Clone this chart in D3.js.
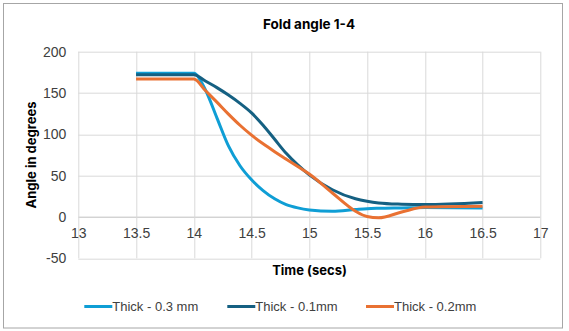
<!DOCTYPE html>
<html>
<head>
<meta charset="utf-8">
<script src="https://cdn.jsdelivr.net/npm/d3@7"></script>
<style>
  body { margin: 0; background: #fff; }
  svg { display: block; }
</style>
</head>
<body>
<div id="wrapper"></div>
<script>
const times = [13.5, 14, 14.1, 14.2, 14.3, 14.4, 14.5, 14.6, 14.7, 14.8, 14.9, 15, 15.2, 15.4, 15.5, 15.6, 15.8, 16, 16.5];
const thick03 = [174, 174, 154, 120, 86, 62, 45, 32, 22, 15, 11, 8.5, 6.8, 9, 10, 10.5, 11, 11.5, 11];
const thick01 = [172, 172, 164.5, 156.5, 147.5, 137.5, 126, 111, 94, 77, 63, 51, 33, 22, 19, 17, 15.5, 15, 17.5];
const thick02 = [167, 167, 153, 139, 124.5, 111, 99, 88.5, 79, 70, 61, 52, 29, 7, 0.5, -1, 6, 12, 13];
const seriesNames = ["Thick - 0.3 mm", "Thick - 0.1mm", "Thick - 0.2mm"];
const seriesColors = ["#0F9ED5", "#156082", "#E97132"];
const xTicks = [13, 13.5, 14, 14.5, 15, 15.5, 16, 16.5, 17];
const yTicks = [-50, 0, 50, 100, 150, 200];

const series = [thick03, thick01, thick02].map((vals, i) => ({
    name: seriesNames[i],
    color: seriesColors[i],
    points: vals.map((v, j) => ({ t: times[j], v }))
}));

const dimensions = {
    width: 569,
    height: 331,
    margin: { top: 51.7, right: 28.7, bottom: 72.7, left: 78.3 }
};
dimensions.boundedWidth = dimensions.width - dimensions.margin.left - dimensions.margin.right;
dimensions.boundedHeight = dimensions.height - dimensions.margin.top - dimensions.margin.bottom;

const xScale = d3.scaleLinear()
    .domain([13, 17])
    .range([0, dimensions.boundedWidth]);

const yScale = d3.scaleLinear()
    .domain([-50, 200])
    .range([dimensions.boundedHeight, 0]);

const wrapper = d3.select("#wrapper")
    .append("svg")
    .attr("width", dimensions.width)
    .attr("height", dimensions.height);

// chart border
wrapper.append("rect")
    .attr("x", 3.5)
    .attr("y", 3.5)
    .attr("width", 559)
    .attr("height", 324.5)
    .attr("fill", "#fff")
    .attr("stroke", "#a6a6a6")
    .attr("stroke-width", 1);

wrapper.append("text")
    .attr("x", 309)
    .attr("y", 29)
    .attr("text-anchor", "middle")
    .style("font-family", "Inter, 'Open Sans', sans-serif")
    .style("font-weight", "bold")
    .style("font-size", "13.5px")
    .attr("fill", "#000")
    .text("Fold angle 1-4");

const bounds = wrapper.append("g")
    .attr("transform", `translate(${dimensions.margin.left}, ${dimensions.margin.top})`);

// gridlines
bounds.append("g")
    .selectAll("line")
    .data(yTicks)
    .join("line")
    .attr("x1", 0)
    .attr("x2", dimensions.boundedWidth)
    .attr("y1", d => Math.round(yScale(d)) + 0.5)
    .attr("y2", d => Math.round(yScale(d)) + 0.5)
    .attr("stroke", d => d === 0 ? "#bfbfbf" : "#d9d9d9");

bounds.append("g")
    .selectAll("line")
    .data(xTicks)
    .join("line")
    .attr("x1", d => Math.round(xScale(d)) + 0.5)
    .attr("x2", d => Math.round(xScale(d)) + 0.5)
    .attr("y1", 0)
    .attr("y2", dimensions.boundedHeight)
    .attr("stroke", "#d9d9d9");

// y axis labels (plain hyphen for negatives, like Excel)
const yAxisGenerator = d3.axisLeft(yScale)
    .tickValues(yTicks)
    .tickFormat(d => String(d))
    .tickSize(0)
    .tickPadding(12);

const yAxis = bounds.append("g").call(yAxisGenerator);
yAxis.select(".domain").remove();
yAxis.selectAll("text")
    .style("font-family", "'Liberation Sans', Arial, sans-serif")
    .style("font-size", "14px")
    .attr("fill", "#404040");

// x axis labels sit next to the zero line
const xAxisGenerator = d3.axisBottom(xScale)
    .tickValues(xTicks)
    .tickFormat(d => String(d))
    .tickSize(0)
    .tickPadding(11);

const xAxis = bounds.append("g")
    .attr("transform", `translate(0, ${yScale(0)})`)
    .call(xAxisGenerator);
xAxis.select(".domain").remove();
xAxis.selectAll("text")
    .style("font-family", "'Liberation Sans', Arial, sans-serif")
    .style("font-size", "14px")
    .attr("fill", "#404040");

// axis titles
wrapper.append("text")
    .attr("x", 309.5)
    .attr("y", 275)
    .attr("text-anchor", "middle")
    .style("font-family", "Inter, 'Open Sans', sans-serif")
    .style("font-weight", "bold")
    .style("font-size", "13px")
    .attr("fill", "#000")
    .text("Time (secs)");

wrapper.append("text")
    .attr("transform", "translate(36, 155) rotate(-90)")
    .attr("text-anchor", "middle")
    .style("font-family", "Inter, 'Open Sans', sans-serif")
    .style("font-weight", "bold")
    .style("font-size", "13px")
    .attr("fill", "#000")
    .text("Angle in degrees");

// lines
const lineGenerator = d3.line()
    .x(d => xScale(d.t))
    .y(d => yScale(d.v))
    .curve(d3.curveMonotoneX);

bounds.append("g")
    .selectAll("path")
    .data(series)
    .join("path")
    .attr("d", d => lineGenerator(d.points))
    .attr("fill", "none")
    .attr("stroke", d => d.color)
    .attr("stroke-width", 3)
    .attr("stroke-linejoin", "round");

// legend
const legendX = [84.3, 227.3, 366];
const legend = wrapper.append("g")
    .selectAll("g")
    .data(series)
    .join("g")
    .attr("transform", (d, i) => `translate(${legendX[i]}, 306.5)`);

legend.append("line")
    .attr("x1", 0)
    .attr("x2", 28)
    .attr("stroke", d => d.color)
    .attr("stroke-width", 3);

legend.append("text")
    .attr("x", 28)
    .attr("y", 4.5)
    .style("font-family", "'Liberation Sans', Arial, sans-serif")
    .style("font-size", "13px")
    .attr("fill", "#404040")
    .text(d => d.name);
</script>
</body>
</html>
